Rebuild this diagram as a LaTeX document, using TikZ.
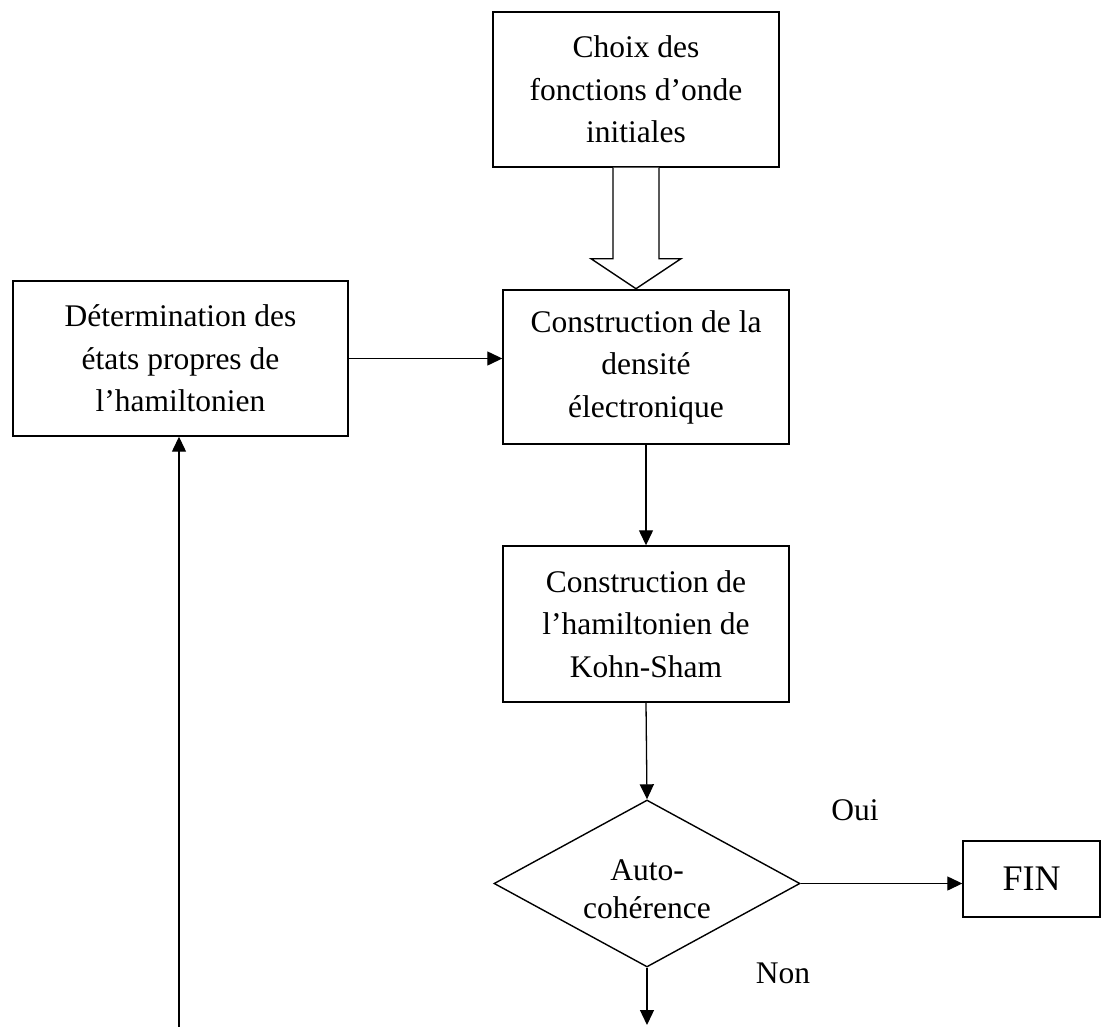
\documentclass[tikz,border=0pt]{standalone}
\usepackage{fontspec}
\setmainfont{Liberation Serif}
\usetikzlibrary{arrows.meta,shapes.geometric}
\begin{document}
\begin{tikzpicture}[x=1pt,y=-1pt,
  box/.style={draw,line width=1.4pt,inner sep=0pt,align=center,font=\fontsize{31.5}{42.5}\selectfont},
  conn/.style={line width=1.3pt,-{Triangle[length=15pt,width=14pt]}},
  lbl/.style={font=\fontsize{31.5}{38}\selectfont,inner sep=0pt}]
\useasboundingbox (0,0) rectangle (1103,1027);
\node[box,minimum width=286pt,minimum height=155pt] (b1) at (636,89.5) {Choix des\\fonctions d’onde\\initiales};
\node[box,minimum width=286pt,minimum height=154pt] (b2) at (646,367) {Construction de la\\densité\\électronique};
\node[box,minimum width=286pt,minimum height=156pt] (b3) at (646,624) {Construction de\\l’hamiltonien de\\Kohn-Sham};
\node[box,minimum width=335pt,minimum height=155pt] (bl) at (180.5,358.5) {Détermination des\\états propres de\\l’hamiltonien};
\node[draw,line width=1.4pt,diamond,inner sep=0pt,minimum width=306pt,minimum height=167pt] (dia) at (647,883.5) {};
\node[lbl,align=center,font=\fontsize{31.5}{37.5}\selectfont] (diatext) at (647,889) {Auto-\\cohérence};
\node[box,minimum width=137pt,minimum height=76pt,font=\fontsize{36}{40}\selectfont] (fin) at (1031.5,879) {FIN};
\node[lbl,anchor=base] (oui) at (855,820) {Oui};
\node[lbl,anchor=base] (non) at (783,983) {Non};
% hollow block arrow
\draw[line width=1.4pt,fill=white] (b1.south) ++(-23,0) -- ++(0,91) -- ++(-22,0) -- ++(45,30) -- ++(45,-30) -- ++(-22,0) -- ++(0,-91);
\draw[conn] (bl.east) -- (bl.east -| b2.west);
\draw[conn] (b2.south) -- (b3.north);
\draw[conn] (b3.south) -- (dia.north);
\draw[conn] (dia.east) -- (dia.east -| fin.west);
\coordinate (endD) at (647,1025);
\draw[conn] (dia.south) -- (endD);
\coordinate (startL) at (179,1027);
\draw[conn] (startL) -- (startL |- bl.south);
\end{tikzpicture}
\end{document}
